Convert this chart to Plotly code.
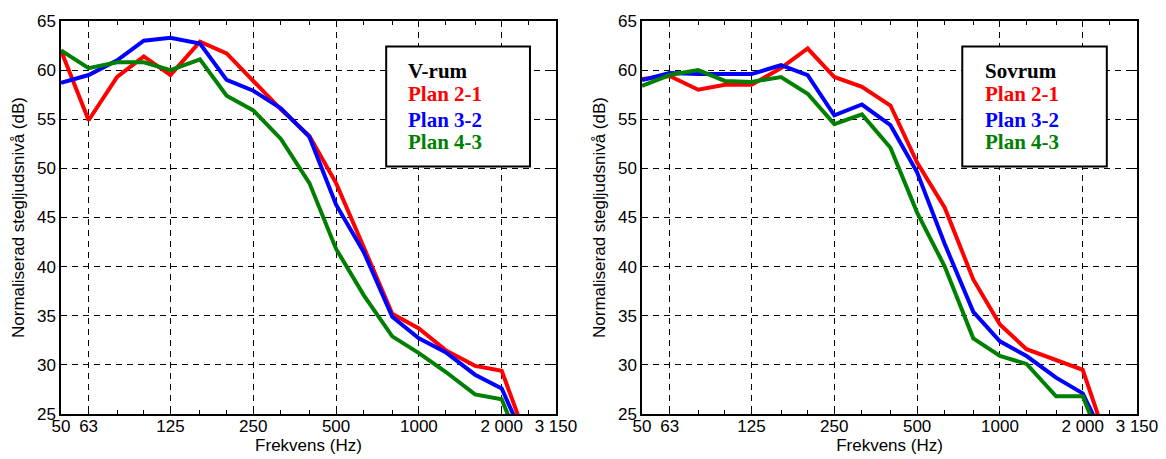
import plotly.graph_objects as go
from plotly.subplots import make_subplots

# ---- data ----
freq = [50, 63, 80, 100, 125, 160, 200, 250, 315, 400, 500, 630, 800, 1000, 1250, 1600, 2000, 2500]

vrum_plan21 = [62.0, 54.9, 59.3, 61.4, 59.5, 62.9, 61.7, 58.9, 56.0, 53.3, 48.5, 42.0, 35.2, 33.7, 31.5, 29.9, 29.4, 22.0]
vrum_plan32 = [58.7, 59.5, 61.0, 63.0, 63.3, 62.7, 59.0, 57.9, 56.1, 53.2, 46.3, 41.5, 34.9, 32.7, 31.3, 29.0, 27.6, 21.5]
vrum_plan43 = [62.0, 60.2, 60.8, 60.8, 60.0, 61.1, 57.4, 55.9, 53.0, 48.5, 41.8, 37.1, 32.9, 31.2, 29.3, 27.0, 26.5, 19.8]

sovrum_plan21 = [59.1, 59.4, 58.0, 58.5, 58.5, 60.2, 62.2, 59.3, 58.3, 56.4, 50.6, 46.0, 38.7, 34.1, 31.6, 30.5, 29.5, 21.5]
sovrum_plan32 = [59.0, 59.7, 59.6, 59.6, 59.6, 60.5, 59.5, 55.4, 56.5, 54.4, 49.6, 42.3, 35.4, 32.4, 30.9, 28.7, 27.1, 21.5]
sovrum_plan43 = [58.4, 59.5, 60.0, 58.9, 58.8, 59.3, 57.6, 54.5, 55.5, 52.1, 45.5, 40.0, 32.7, 30.9, 30.1, 26.8, 26.8, 20.1]

series_names = ["Plan 2-1", "Plan 3-2", "Plan 4-3"]
series_colors = ["#FF0000", "#0000FF", "#008000"]
room_titles = ["V-rum", "Sovrum"]

x_tickvals = [50, 63, 125, 250, 500, 1000, 2000, 3150]
x_ticktext = ["50", "63", "125", "250", "500", "1000", "2 000", "3 150"]
x_minor = [80, 100, 160, 200, 315, 400, 630, 800, 1250, 1600, 2500]
y_tickvals = [25, 30, 35, 40, 45, 50, 55, 60, 65]

x_title = "Frekvens (Hz)"
y_title = "Normaliserad stegljudsnivå (dB)"

# ---- figure ----
fig = make_subplots(rows=1, cols=2, horizontal_spacing=0.08)

panels = [
    [vrum_plan21, vrum_plan32, vrum_plan43],
    [sovrum_plan21, sovrum_plan32, sovrum_plan43],
]

for c, panel in enumerate(panels, start=1):
    for vals, name, col in zip(panel, series_names, series_colors):
        fig.add_trace(
            go.Scatter(x=freq, y=vals, mode="lines", name=name,
                       line=dict(color=col, width=4), showlegend=False),
            row=1, col=c,
        )

tickfont = dict(family="Liberation Sans, Arial, sans-serif", size=17, color="black")

fig.update_xaxes(
    type="log", range=[1.69897, 3.49831],
    tickmode="array", tickvals=x_tickvals, ticktext=x_ticktext,
    ticks="inside", ticklen=6, tickcolor="black",
    showline=True, linecolor="black", linewidth=1.5, mirror="allticks",
    showgrid=True, gridcolor="black", gridwidth=1, griddash="6px,5px",
    minor=dict(tickmode="array", tickvals=x_minor, ticks="inside", ticklen=4,
               tickcolor="black", showgrid=False),
    tickfont=tickfont, ticklabelstandoff=-4,
    title=dict(text=x_title, font=tickfont, standoff=4),
    zeroline=False, automargin=False,
)
fig.update_yaxes(
    range=[25, 65], tickmode="array", tickvals=y_tickvals,
    ticks="inside", ticklen=6, tickcolor="black",
    showline=True, linecolor="black", linewidth=1.5, mirror="allticks",
    showgrid=True, gridcolor="black", gridwidth=1, griddash="6px,5px",
    tickfont=tickfont,
    title=dict(text=y_title, font=tickfont, standoff=8),
    zeroline=False, automargin=False,
)

# legend boxes drawn as shapes + annotations
legend_font = "Liberation Serif, Times New Roman, serif"
line_y = [0.872, 0.813, 0.749, 0.691]
box_x = [(0.657, 0.9475), (0.647, 0.939)]
text_x = [0.698, 0.689]
for i, (xr, yr) in enumerate([("x", "y"), ("x2", "y2")]):
    x0, x1 = box_x[i]
    fig.add_shape(type="rect", xref=f"{xr} domain", yref=f"{yr} domain",
                  x0=x0, x1=x1, y0=0.63, y1=0.935,
                  line=dict(color="black", width=2), fillcolor="white", layer="above")
    labels = [room_titles[i]] + series_names
    colors = ["black"] + series_colors
    for lab, col, yy in zip(labels, colors, line_y):
        fig.add_annotation(xref=f"{xr} domain", yref=f"{yr} domain",
                           x=text_x[i], y=yy, xanchor="left", yanchor="middle",
                           text=f"<b>{lab}</b>", showarrow=False,
                           font=dict(family=legend_font, size=21, color=col))

fig.update_xaxes(domain=[0, 0.46], row=1, col=1)
fig.update_xaxes(domain=[0.54, 1.0], row=1, col=2)

fig.update_layout(
    width=1166, height=459,
    margin=dict(l=61, r=29, t=21, b=45),
    paper_bgcolor="white", plot_bgcolor="white",
    showlegend=False,
)

fig.write_html("out.html")
